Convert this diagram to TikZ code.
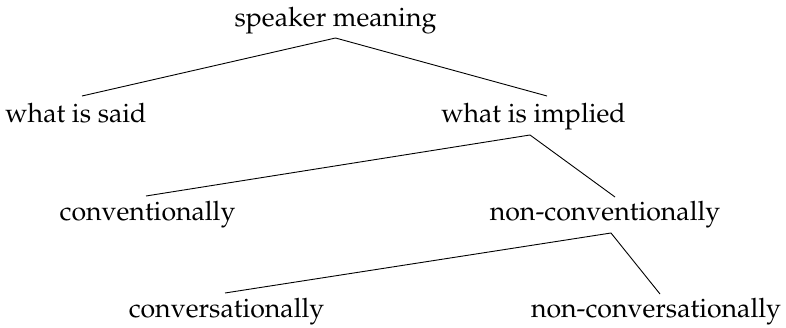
\documentclass[tikz,border=0pt]{standalone}
\usepackage[T1]{fontenc}
\usepackage{mathpazo}
\begin{document}
\begin{tikzpicture}[x=1pt,y=-1pt,
  lbl/.style={anchor=base,inner sep=0pt,font=\fontsize{26.7}{32}\selectfont},
  edge/.style={line width=0.9pt,black}]
\useasboundingbox (0,0) rectangle (786,328);
\node[lbl] (sm) at (335.5,27) {speaker meaning};
\node[lbl] (wis) at (76,123) {what is said};
\node[lbl] (wip) at (533.5,123) {what is implied};
\node[lbl] (conv) at (147.5,221) {conventionally};
\node[lbl] (nconv) at (605,221) {non-conventionally};
\node[lbl] (cons) at (226.5,317) {conversationally};
\node[lbl] (ncons) at (656,317) {non-conversationally};
% apex points relative to parent base
\coordinate (a1) at ([yshift=-11pt]sm.base);
\coordinate (a2) at ([xshift=-3.5pt,yshift=-12pt]wip.base);
\coordinate (a3) at ([xshift=6pt,yshift=-12pt]nconv.base);
\draw[edge] ([xshift=6pt,yshift=27pt]wis.base) -- (a1) -- ([xshift=13.5pt,yshift=27pt]wip.base);
\draw[edge] ([xshift=-1.5pt,yshift=25pt]conv.base) -- (a2) -- ([xshift=10pt,yshift=24pt]nconv.base);
\draw[edge] ([xshift=-1.5pt,yshift=24pt]cons.base) -- (a3) -- ([xshift=4pt,yshift=23pt]ncons.base);
\end{tikzpicture}
\end{document}
